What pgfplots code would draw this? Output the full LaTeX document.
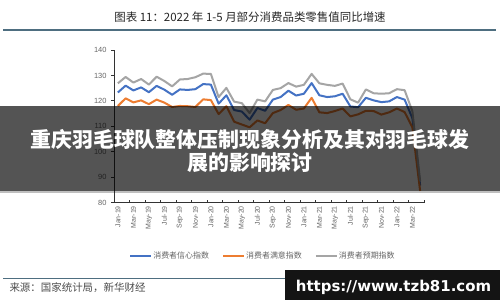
\documentclass[border=0pt]{standalone}
\usepackage{fontspec}
\usepackage{pgfplots}
\pgfplotsset{compat=1.18}
\setmainfont{Liberation Sans}
\newfontfamily\cjk{Noto Sans CJK SC}
\newfontfamily\urlfont{DejaVu Sans}

\definecolor{cblue}{HTML}{4472C4}
\definecolor{corange}{HTML}{ED7D31}
\definecolor{cgray}{HTML}{A5A5A5}
\definecolor{labgray}{HTML}{666666}
\definecolor{rulecol}{RGB}{78,110,128}

% NBS consumer indices, Jan 2019 (0) to Apr 2022 (39)
\pgfplotstableread{
m  conf  sat   exp
0  123.3 118.0 126.9
1  126.0 121.0 129.4
2  124.1 119.4 127.2
3  125.3 120.2 128.6
4  123.4 118.7 126.4
5  125.9 120.5 129.5
6  124.4 119.3 127.8
7  122.4 117.6 125.7
8  124.5 118.0 128.4
9  124.3 117.9 128.6
10 124.6 117.6 129.3
11 126.6 120.6 130.7
12 126.4 120.3 130.6
13 118.9 114.8 121.5
14 122.2 117.9 125.1
15 116.4 111.8 119.7
16 115.8 110.7 119.1
17 112.6 109.6 115.2
18 117.2 112.3 120.5
19 116.1 111.2 119.8
20 120.5 115.2 124.3
21 121.5 116.4 125.0
22 124.0 118.4 127.0
23 122.1 116.5 125.6
24 122.8 117.0 126.3
25 127.0 121.2 130.6
26 122.2 115.5 126.9
27 121.5 115.2 126.3
28 121.8 116.0 125.9
29 122.8 117.0 126.8
30 117.8 113.9 120.6
31 117.5 114.7 119.3
32 121.2 116.1 124.5
33 120.2 116.0 123.0
34 119.5 114.6 122.8
35 119.8 115.5 123.0
36 121.5 117.0 124.6
37 120.5 115.6 124.2
38 113.2 109.6 115.9
39 86.7  84.6  88.4
}\idx

\begin{document}
\begin{tikzpicture}[x=1bp,y=1bp]
\path[fill=white,use as bounding box] (0,0) rectangle (500,300);

% heading and rules
\node[text=black!85,font=\cjk\fontsize{11.5}{13}\selectfont] at (250,283.3)
  {图表 11：2022 年 1-5 月部分消费品类零售值同比增速};
\draw[rulecol,line width=2bp] (3,270.5) -- (496,270.5);
\draw[rulecol,line width=1.2bp] (3,21.7) -- (496,21.7);
\node[anchor=west,text=black!70,font=\cjk\fontsize{10.5}{12}\selectfont] at (6,12)
  {来源：国家统计局，新华财经};

\begin{axis}[
  at={(114bp,97.4bp)}, anchor=south west,
  scale only axis, width=310bp, height=152.6bp,
  xmin=-0.5, xmax=39.5, ymin=80, ymax=140,
  axis x line*=bottom, axis y line*=left,
  axis line style={-, draw=black!80, line width=0.8bp},
  /pgf/number format/assume math mode=true,
  ytick={80,90,...,140},
  xtick={0,2,...,38},
  xticklabels={Jan-19,Mar-19,May-19,Jul-19,Sep-19,Nov-19,Jan-20,Mar-20,May-20,Jul-20,Sep-20,Nov-20,Jan-21,Mar-21,May-21,Jul-21,Sep-21,Nov-21,Jan-22,Mar-22},
  minor xtick={1.5,3.5,...,39.5},
  tick align=inside,
  major tick length=3bp, minor tick length=3bp,
  major x tick style={draw=none},
  minor x tick style={draw=black!80, line width=0.8bp},
  y tick style={draw=black!80, line width=0.8bp, xshift=-3bp},
  xticklabel style={rotate=90, anchor=east, text=labgray,
    font=\fontsize{7}{8}\selectfont},
  yticklabel style={text=labgray, xshift=-4bp,
    font=\fontsize{7.5}{8}\selectfont},
  legend columns=3,
  legend style={at={(0.479,-0.35)}, anchor=center, draw=none, fill=none,
    font=\cjk\fontsize{8}{9}\selectfont, text=labgray,
    nodes={inner sep=1bp},
    /tikz/every even column/.append style={column sep=12bp}},
  legend image code/.code={\draw[#1] (0bp,0bp) -- (21bp,0bp);},
  every axis plot/.append style={line width=2bp, line join=round},
]
\addplot[cblue] table[x=m,y=conf]{\idx};
\addlegendentry{消费者信心指数}
\addplot[corange] table[x=m,y=sat]{\idx};
\addlegendentry{消费者满意指数}
\addplot[cgray] table[x=m,y=exp]{\idx};
\addlegendentry{消费者预期指数}
\end{axis}

% headline banner across the figure
\fill[black,opacity=0.67] (0,109.5) rectangle (500,194);
\fill[black,opacity=0.25] (0,107) rectangle (500,109.5);
\node[text=white,font=\cjk\bfseries\fontsize{21}{24}\selectfont] at (250,161)
  {重庆羽毛球队整体压制现象分析及其对羽毛球发};
\node[text=white,font=\cjk\bfseries\fontsize{21}{24}\selectfont] at (250,137)
  {展的影响探讨};

% site tag
\fill[black!92] (285,0) rectangle (500,30);
\node[text=white,font=\urlfont\bfseries\fontsize{15}{17}\selectfont] at (393.5,12.8)
  {https://www.tzb81.com};
\end{tikzpicture}
\end{document}
